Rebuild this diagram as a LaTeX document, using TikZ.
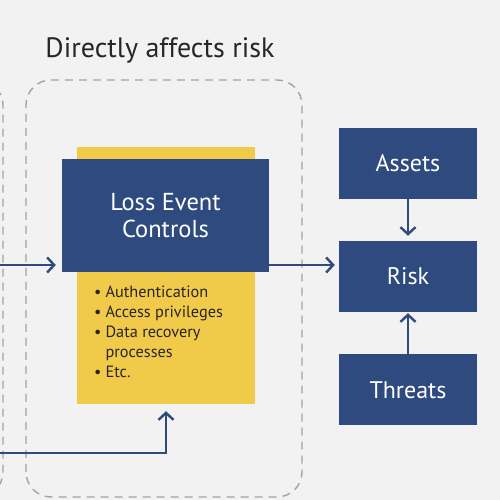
\documentclass[tikz,border=0pt]{standalone}
\usepackage{fontspec}
\setmainfont{PT Sans}
\usetikzlibrary{arrows.meta,positioning}
\definecolor{navy}{HTML}{2F4A7E}
\definecolor{gold}{HTML}{F1CA4A}
\definecolor{paper}{HTML}{F2F2F2}
\definecolor{frame}{HTML}{A3A3A3}
\definecolor{ink}{HTML}{262626}

\begin{document}
\begin{tikzpicture}[x=1pt,y=1pt,node distance=42pt,
box/.style={fill=navy,minimum width=138pt,minimum height=71pt,text=white,font=\fontsize{24}{28}\selectfont,inner sep=0pt},
link/.style={-{Straight Barb[length=7pt,width=15pt]},line width=2.4pt,navy},
zone/.style={dash pattern=on 8pt off 6pt,line width=1.4pt,frame,rounded corners=25pt}]
 \fill[paper] (0,0) rectangle (500,500);
 \useasboundingbox (0,0) rectangle (500,500);
 \clip (0,0) rectangle (500,500);
 % dashed groups
 \draw[zone] (-250,3) rectangle (3,420);
 \draw[zone] (26,3) rectangle (302,420);
 \node[font=\fontsize{28}{32}\selectfont,text=ink] (title) at (160,450) {Directly affects risk};
 % controls
 \node[fill=gold,minimum width=178pt,minimum height=257pt,inner sep=0pt] (ctl) at (166,224.5) {};
 \node[box,minimum width=207pt,minimum height=113pt,align=center,font=\fontsize{24.5}{27}\selectfont] (lec) at (165.5,284) {Loss Event\\Controls};
 \node[anchor=north west,inner sep=0pt,text=ink,font=\fontsize{16.3}{20}\selectfont] (list) at (94,216.5)
  {\begin{tabular}{@{}l@{\hspace{4pt}}l@{}}
   \textbullet & Authentication\\
   \textbullet & Access privileges\\
   \textbullet & Data recovery\\
               & processes\\
   \textbullet & Etc.
  \end{tabular}};
 % risk side
 \node[box] (risk) at (408,223.5) {Risk};
 \node[box,above=of risk] (assets) {Assets};
 \node[box,below=of risk] (threats) {Threats};
 \coordinate (in1) at (0,235);
 \coordinate (in2) at (0,47);
 \draw[link,shorten >=6pt] (in1) -- (in1 -| lec.west);
 \draw[link,shorten >=4pt] (in1 -| lec.east) -- (in1 -| risk.west);
 \draw[link,shorten >=5pt] (assets) -- (risk);
 \draw[link,shorten >=1pt] (threats) -- (risk);
 \draw[link,shorten >=7pt] (in2) -| (ctl.south);
\end{tikzpicture}
\end{document}
